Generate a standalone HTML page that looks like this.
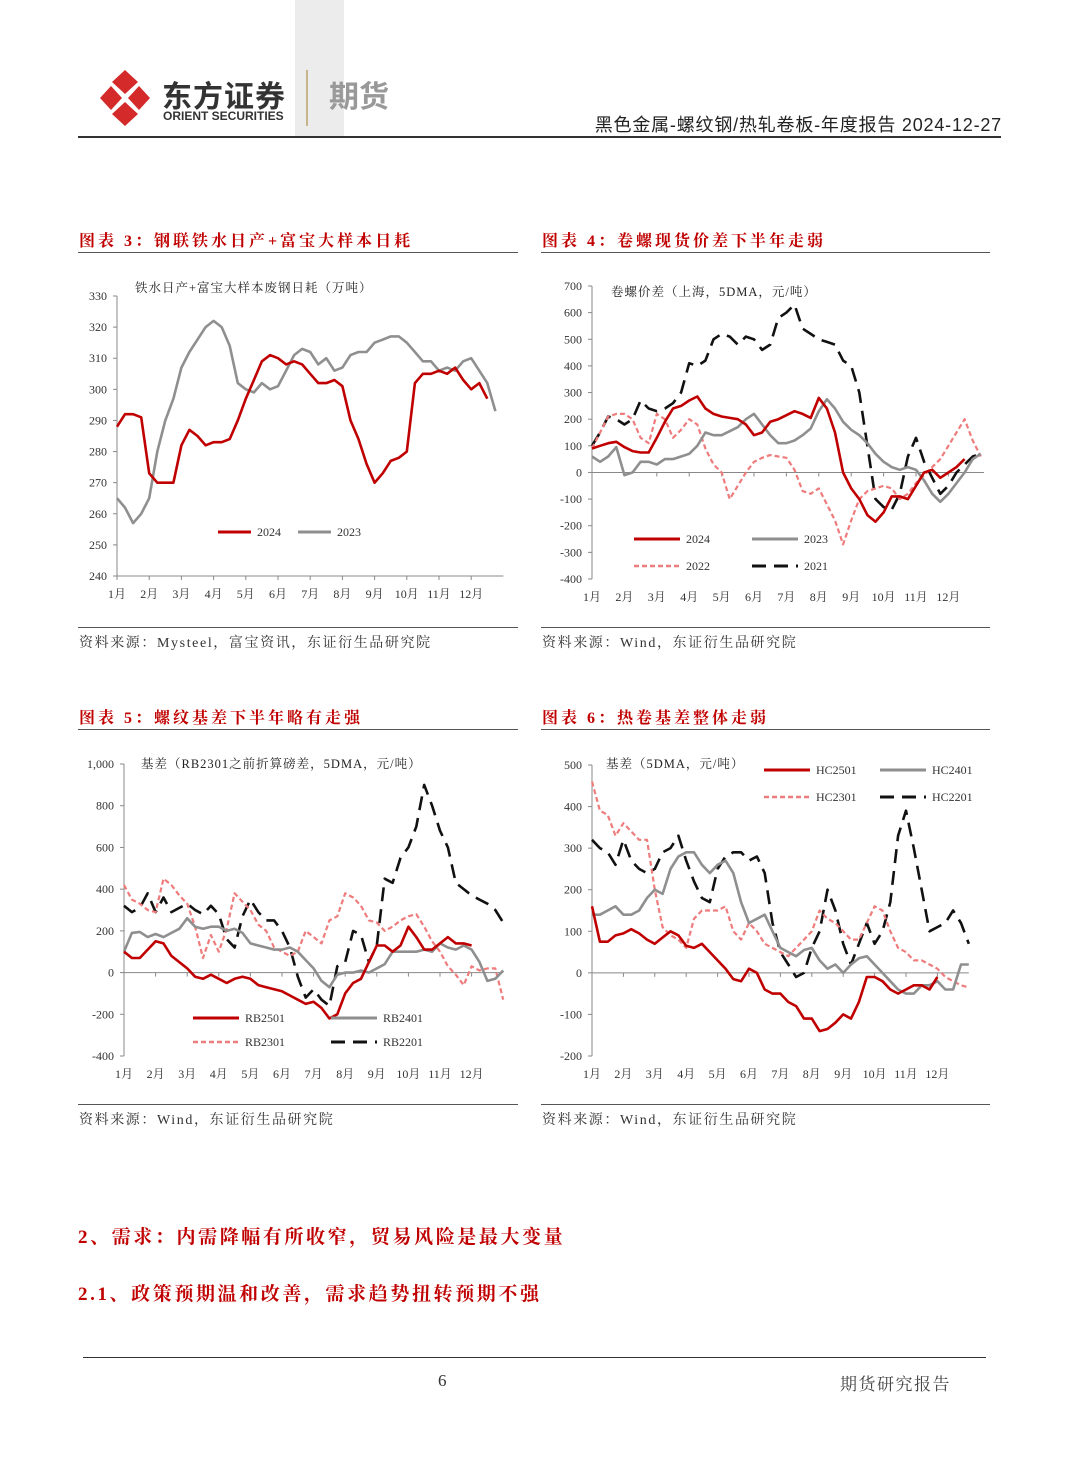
<!DOCTYPE html>
<html><head><meta charset="utf-8">
<style>
body{margin:0;background:#fff;}
#page{position:relative;width:1080px;height:1466px;overflow:hidden;background:#fff;font-family:"Liberation Serif","Noto Serif CJK SC",serif;}
.abs{position:absolute;white-space:nowrap;}
.ttl{color:#c00000;font-weight:bold;font-size:16px;letter-spacing:3px;font-family:"Liberation Serif","Noto Serif CJK SC",serif;}
.src{font-size:14px;color:#333;letter-spacing:1.6px;}
.hr{position:absolute;height:1px;background:#555;}
</style></head>
<body>
<div id="page">
  <div class="abs" style="left:295px;top:0;width:49px;height:137px;background:#ececec;"></div>
  <svg class="abs" style="left:98px;top:68px" width="54" height="60" viewBox="0 0 54 60">
    <g fill="#d42a2a">
      <path d="M27 2 L40 14 L27 26 L14 14 Z"/>
      <path d="M27 58 L40 46 L27 34 L14 46 Z"/>
      <path d="M2 30 L13 18 L24 30 L13 42 Z"/>
      <path d="M52 30 L41 18 L30 30 L41 42 Z"/>
    </g>
  </svg>
  <div class="abs" style="left:162px;top:72px;font-size:30px;font-weight:bold;color:#333;font-family:'Liberation Sans','Noto Sans CJK SC',sans-serif;letter-spacing:1px;">东方证券</div>
  <div class="abs" style="left:163px;top:109px;font-size:12px;font-weight:bold;color:#333;font-family:'Liberation Sans',sans-serif;">ORIENT SECURITIES</div>
  <div class="abs" style="left:306px;top:70px;width:2px;height:56px;background:#c8b48a;"></div>
  <div class="abs" style="left:329px;top:72px;font-size:30px;font-weight:bold;color:#999;font-family:'Liberation Sans','Noto Sans CJK SC',sans-serif;">期货</div>
  <div class="abs" style="right:78px;top:111px;font-size:18px;letter-spacing:0.8px;color:#222;font-family:'Liberation Sans','Noto Sans CJK SC',sans-serif;">黑色金属-螺纹钢/热轧卷板-年度报告 2024-12-27</div>
  <div class="hr" style="left:78px;top:136px;width:923px;height:2px;background:#333;"></div>

  <div class="abs ttl" style="left:79px;top:228px;">图表 3：钢联铁水日产+富宝大样本日耗</div>
  <div class="hr" style="left:78px;top:252px;width:440px;"></div>
  <div class="abs ttl" style="left:542px;top:228px;">图表 4：卷螺现货价差下半年走弱</div>
  <div class="hr" style="left:541px;top:252px;width:449px;"></div>
  <div class="hr" style="left:78px;top:627px;width:440px;"></div>
  <div class="hr" style="left:541px;top:627px;width:449px;"></div>
  <div class="abs src" style="left:79px;top:632px;">资料来源：Mysteel，富宝资讯，东证衍生品研究院</div>
  <div class="abs src" style="left:542px;top:632px;">资料来源：Wind，东证衍生品研究院</div>

  <div class="abs ttl" style="left:79px;top:705px;">图表 5：螺纹基差下半年略有走强</div>
  <div class="hr" style="left:78px;top:729px;width:440px;"></div>
  <div class="abs ttl" style="left:542px;top:705px;">图表 6：热卷基差整体走弱</div>
  <div class="hr" style="left:541px;top:729px;width:449px;"></div>
  <div class="hr" style="left:78px;top:1104px;width:440px;"></div>
  <div class="hr" style="left:541px;top:1104px;width:449px;"></div>
  <div class="abs src" style="left:79px;top:1109px;">资料来源：Wind，东证衍生品研究院</div>
  <div class="abs src" style="left:542px;top:1109px;">资料来源：Wind，东证衍生品研究院</div>

  <div class="abs ttl" style="left:78px;top:1222px;font-size:19px;letter-spacing:2.6px;">2、需求：内需降幅有所收窄，贸易风险是最大变量</div>
  <div class="abs ttl" style="left:78px;top:1279px;font-size:19px;letter-spacing:2.6px;">2.1、政策预期温和改善，需求趋势扭转预期不强</div>

  <div class="hr" style="left:83px;top:1357px;width:903px;background:#333;"></div>
  <div class="abs" style="left:438px;top:1371px;font-size:17px;color:#333;">6</div>
  <div class="abs" style="left:840px;top:1370px;font-size:17px;letter-spacing:1.5px;color:#444;">期货研究报告</div>

  <svg id="charts" class="abs" style="left:0;top:0" width="1080" height="1466"></svg>
</div>
<script>
const months = ['1月','2月','3月','4月','5月','6月','7月','8月','9月','10月','11月','12月'];
// Chart 3
const c3Ticks = [240,250,260,270,280,290,300,310,320,330];
const c3s2024 = [288,292,292,291,273,270,270,270,282,287,285,282,283,283,284,290,297,303,309,311,310,308,309,308,305,302,302,303,301,290,284,276,270,273,277,278,280,302,305,305,306,305,307,303,300,302,297];
const c3s2023 = [265,262,257,260,265,280,290,297,307,312,316,320,322,320,314,302,300,299,302,300,301,306,311,313,312,308,310,306,307,311,312,312,315,316,317,317,315,312,309,309,306,307,306,309,310,306,302,293];
// Chart 4
const c4Ticks = [-400,-300,-200,-100,0,100,200,300,400,500,600,700];
const c4s2024 = [90,100,110,115,95,80,75,75,130,190,240,250,270,285,240,220,210,205,200,180,140,150,190,200,215,230,220,205,280,240,150,0,-60,-100,-160,-185,-150,-90,-90,-100,-50,0,10,-20,0,20,50];
const c4s2023 = [60,40,60,95,-10,0,40,40,30,50,50,60,70,100,150,140,140,155,170,200,220,180,140,110,110,120,140,165,230,275,240,190,160,140,110,70,40,20,10,20,10,-30,-80,-110,-80,-40,0,50,70];
const c4s2022 = [90,150,210,220,220,200,130,110,220,200,130,160,200,180,90,30,0,-100,-50,0,40,55,65,60,55,10,-70,-80,-60,-120,-180,-270,-180,-100,-70,-60,-50,-60,-100,-80,-40,-10,20,50,100,150,200,120,60];
const c4s2021 = [100,150,210,200,180,200,270,240,230,240,260,300,410,400,420,500,520,510,480,510,500,460,480,580,600,630,540,520,500,490,480,420,400,300,100,-100,-130,-140,-80,60,130,40,-20,-80,-50,0,30,60,70];
// Chart 5
const c5Ticks = [-400,-200,0,200,400,600,800,1000];
const c5Labels = ['-400','-200','0','200','400','600','800','1,000'];
const c5rb2501 = [100,70,70,110,150,140,80,50,20,-20,-30,-10,-30,-50,-30,-20,-30,-60,-70,-80,-90,-110,-130,-150,-140,-170,-220,-200,-100,-50,-30,50,130,130,100,130,220,170,110,110,140,170,140,140,130];
const c5rb2401 = [100,190,195,170,185,170,190,210,260,220,210,220,220,200,210,190,140,130,120,110,110,120,100,60,20,-40,-70,-10,0,0,10,0,20,40,100,100,100,100,110,100,140,120,110,130,110,50,-40,-30,10];
const c5rb2301 = [420,350,330,300,290,450,420,370,330,220,70,180,100,210,380,340,300,230,200,120,100,80,100,200,170,140,250,270,380,360,320,250,240,200,220,250,270,280,220,150,100,30,-10,-60,30,10,20,20,-130];
const c5rb2201 = [320,290,310,380,290,360,290,310,330,300,280,320,280,160,120,270,350,290,250,250,200,120,-20,-120,-80,-130,-160,30,50,200,180,50,130,450,430,550,600,700,900,800,680,600,430,400,370,350,330,300,240];
// Chart 6
const c6Ticks = [-200,-100,0,100,200,300,400,500];
const c6hc2501 = [160,75,75,90,95,105,95,80,70,85,100,90,65,60,70,50,30,10,-15,-20,10,0,-40,-50,-50,-70,-80,-110,-110,-140,-135,-120,-100,-110,-70,-10,-10,-20,-40,-50,-40,-30,-30,-40,-10];
const c6hc2401 = [140,140,150,160,140,140,150,180,200,190,250,280,290,290,260,240,260,270,240,170,120,130,140,100,60,50,40,55,60,30,10,20,0,20,35,40,20,0,-20,-40,-50,-50,-30,-30,-20,-40,-40,20,20];
const c6hc2301 = [460,390,380,330,360,340,320,320,200,110,90,80,60,130,150,150,150,160,100,80,120,100,70,60,50,40,60,80,100,150,130,120,100,80,80,120,160,150,100,60,50,30,30,20,10,-10,-20,-30,-35];
const c6hc2201 = [320,300,290,260,320,270,250,240,250,290,300,330,270,220,180,170,250,280,290,290,270,280,240,120,50,20,-10,0,60,100,200,150,70,20,70,120,70,100,170,330,390,300,200,100,110,120,150,120,70];

const svg = document.getElementById('charts');
const NS = 'http://www.w3.org/2000/svg';
function mk(tag, attrs, parent){const e=document.createElementNS(NS,tag);for(const k in attrs)e.setAttribute(k,attrs[k]);(parent||svg).appendChild(e);return e;}
const FONT = '"Liberation Serif","Noto Serif CJK SC",serif';
const STY = {
  red:{stroke:'#c00000',w:2.6,dash:''},
  gray:{stroke:'#8f8f8f',w:2.6,dash:''},
  pink:{stroke:'#ee7c7c',w:2.2,dash:'5,3'},
  black:{stroke:'#111',w:2.6,dash:'14,8'}
};

function chart(id, cfg){
  const g = mk('g',{});
  
  
  const yS = v => cfg.yB - (v - cfg.vmin)/(cfg.vmax - cfg.vmin)*(cfg.yB - cfg.yT);
  const xS = i => cfg.x0 + i*cfg.mw/4;
  const ya = mk('line',{x1:cfg.x0,y1:cfg.yT,x2:cfg.x0,y2:cfg.yB,stroke:'#888','stroke-width':1},g);
  
  
  cfg.ticks.forEach((t,k)=>{
    const y=yS(t);
    mk('line',{x1:cfg.x0-4,y1:y,x2:cfg.x0,y2:y,stroke:'#888'},g);
    const tx=mk('text',{x:cfg.x0-10,y:y+4,'text-anchor':'end','font-size':12,fill:'#333','font-family':FONT},g);
    tx.textContent = cfg.labels ? cfg.labels[k] : String(t);
    
    
  });
  const base = cfg.xAxisAt===undefined ? cfg.yB : yS(cfg.xAxisAt);
  const xa = mk('line',{x1:cfg.x0,y1:base,x2:cfg.x0+cfg.xEnd*cfg.mw,y2:base,stroke:'#888','stroke-width':1},g);
  
  
  months.forEach((m,i)=>{
    const x=cfg.x0+i*cfg.mw;
    mk('line',{x1:x,y1:base,x2:x,y2:base+4,stroke:'#888'},g);
    const tx=mk('text',{x:x,y:cfg.yB+22,'text-anchor':'middle','font-size':12,fill:'#333','font-family':FONT},g);
    tx.textContent=m;
    
    
  });
  cfg.series.forEach(s=>{
    const st=STY[s.style];
    let d='';
    s.data.forEach((v,i)=>{ if(v===null) return; d += (d?'L':'M')+xS(i).toFixed(1)+','+yS(v).toFixed(1); });
    const p=mk('path',{d:d,fill:'none',stroke:st.stroke,'stroke-width':st.w,'stroke-dasharray':st.dash,'stroke-linejoin':'round'},g);
    
    
  });
  cfg.legend.forEach(l=>{
    const st=STY[l.style];
    const ln=mk('line',{x1:l.x,y1:l.y,x2:l.x+(l.len||44),y2:l.y,stroke:st.stroke,'stroke-width':st.w+0.4,'stroke-dasharray':st.dash},g);
    
    
    const tx=mk('text',{x:l.x+(l.len||44)+6,y:l.y+4,'font-size':12,fill:'#333','font-family':FONT},g);
    tx.textContent=l.text;
    
    
  });
  const tt=mk('text',{x:cfg.title[0],y:cfg.title[1],'font-size':12.5,'letter-spacing':1,fill:'#222','font-family':FONT},g);
  tt.textContent=cfg.title[2];
  
  
}

chart('chart3',{x0:117,mw:32.2,yT:296,yB:576,vmin:240,vmax:330,ticks:c3Ticks,xEnd:12,
  series:[{name:'2023',style:'gray',data:c3s2023},{name:'2024',style:'red',data:c3s2024}],
  legend:[{x:218,y:532,style:'red',text:'2024',len:33},{x:298,y:532,style:'gray',text:'2023',len:33}],
  title:[135,292,'铁水日产+富宝大样本废钢日耗（万吨）']});
chart('chart4',{x0:592,mw:32.4,yT:286,yB:579,vmin:-400,vmax:700,ticks:c4Ticks,xAxisAt:0,xEnd:12.1,
  series:[{name:'2021',style:'black',data:c4s2021},{name:'2022',style:'pink',data:c4s2022},{name:'2023',style:'gray',data:c4s2023},{name:'2024',style:'red',data:c4s2024}],
  legend:[{x:634,y:539,style:'red',text:'2024',len:46},{x:752,y:539,style:'gray',text:'2023',len:46},{x:634,y:566,style:'pink',text:'2022',len:46},{x:752,y:566,style:'black',text:'2021',len:46}],
  title:[611,296,'卷螺价差（上海，5DMA，元/吨）']});
chart('chart5',{x0:124,mw:31.6,yT:764,yB:1056,vmin:-400,vmax:1000,ticks:c5Ticks,labels:c5Labels,xAxisAt:0,xEnd:12,
  series:[{name:'rb2201',style:'black',data:c5rb2201},{name:'rb2301',style:'pink',data:c5rb2301},{name:'rb2401',style:'gray',data:c5rb2401},{name:'rb2501',style:'red',data:c5rb2501}],
  legend:[{x:193,y:1018,style:'red',text:'RB2501',len:46},{x:331,y:1018,style:'gray',text:'RB2401',len:46},{x:193,y:1042,style:'pink',text:'RB2301',len:46},{x:331,y:1042,style:'black',text:'RB2201',len:46}],
  title:[141,768,'基差（RB2301之前折算磅差，5DMA，元/吨）']});
chart('chart6',{x0:592,mw:31.4,yT:765,yB:1056,vmin:-200,vmax:500,ticks:c6Ticks,xAxisAt:0,xEnd:12,
  series:[{name:'hc2201',style:'black',data:c6hc2201},{name:'hc2301',style:'pink',data:c6hc2301},{name:'hc2401',style:'gray',data:c6hc2401},{name:'hc2501',style:'red',data:c6hc2501}],
  legend:[{x:764,y:770,style:'red',text:'HC2501',len:46},{x:880,y:770,style:'gray',text:'HC2401',len:46},{x:764,y:797,style:'pink',text:'HC2301',len:46},{x:880,y:797,style:'black',text:'HC2201',len:46}],
  title:[606,768,'基差（5DMA，元/吨）']});
</script>
</body></html>
